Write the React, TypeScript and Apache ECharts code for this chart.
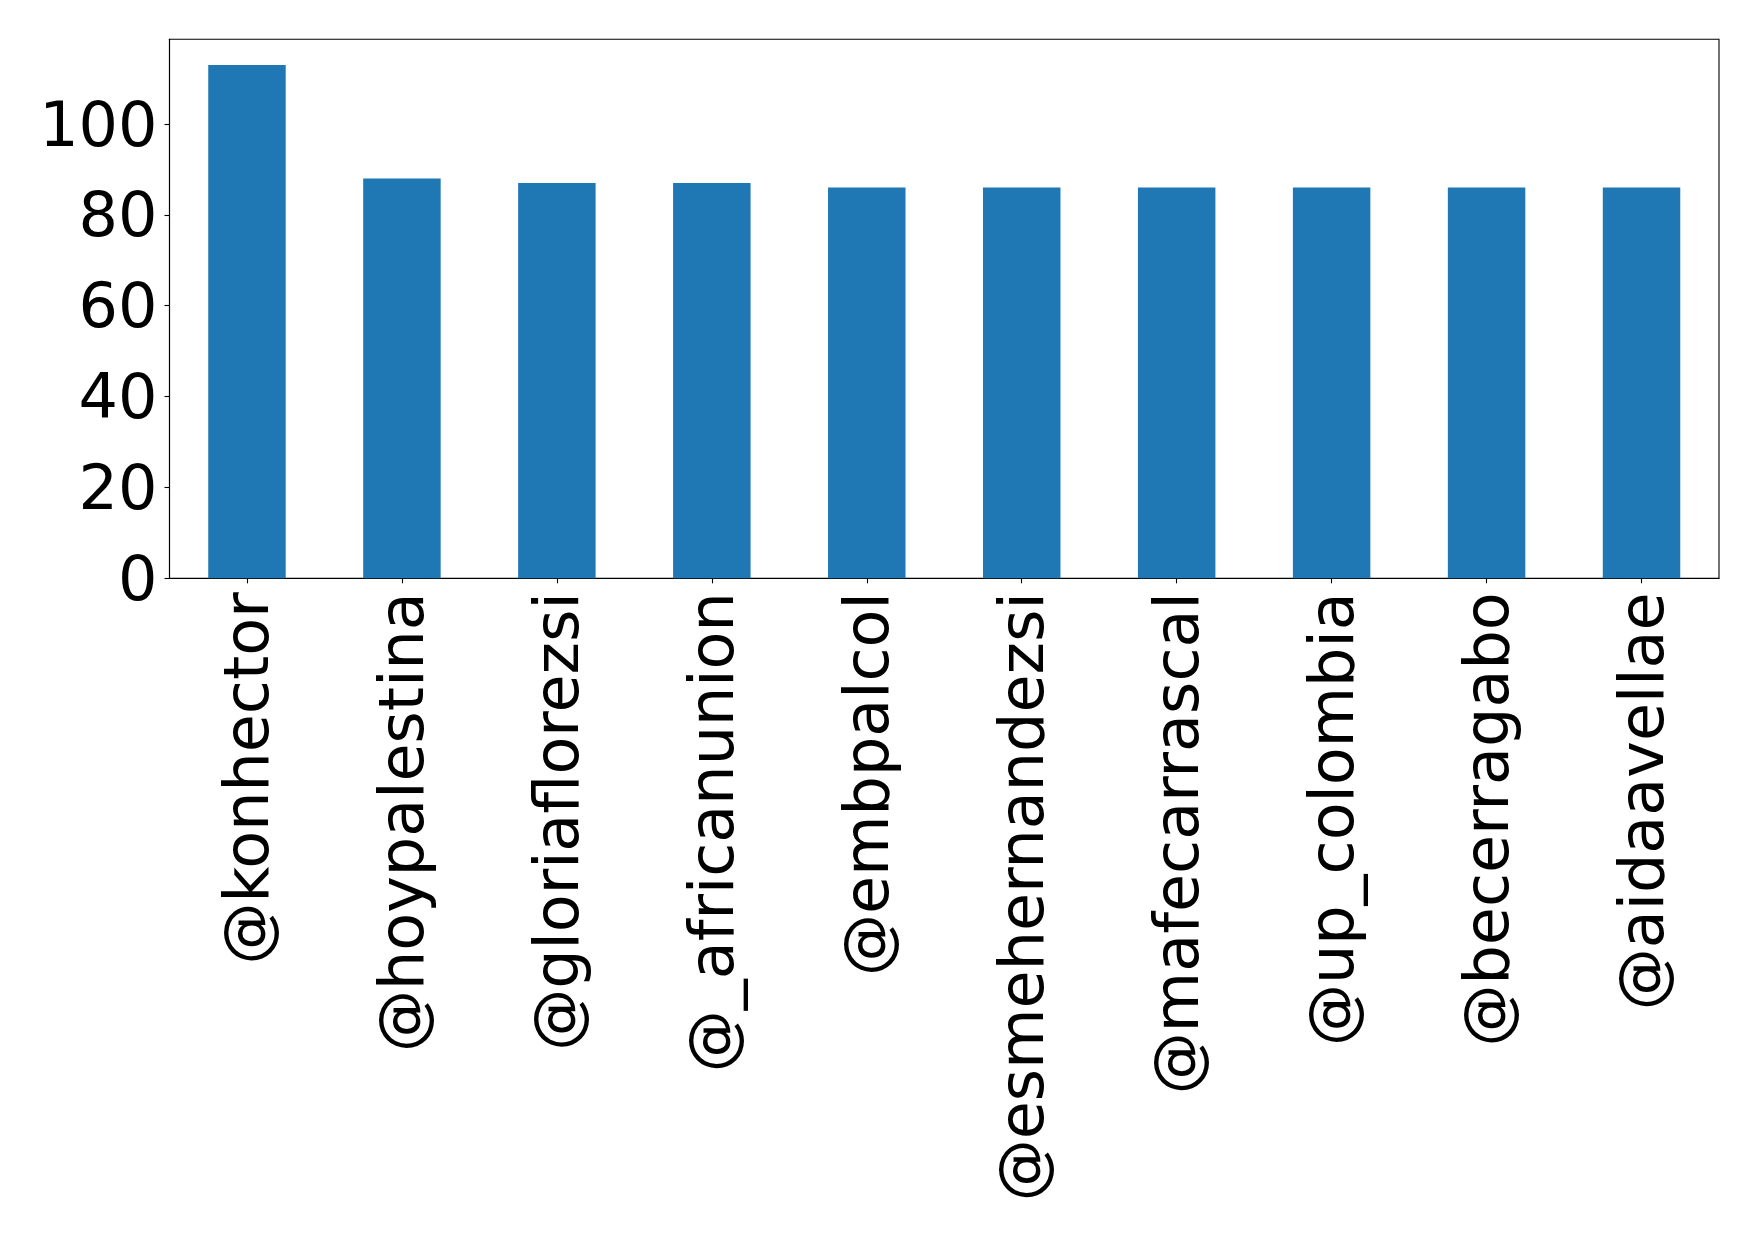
import React, { useEffect, useRef } from "react";
import * as echarts from "echarts";

// Accounts and their counts
const accounts = [
  "@konhector",
  "@hoypalestina",
  "@gloriaflorezsi",
  "@_africanunion",
  "@embpalcol",
  "@esmehernandezsi",
  "@mafecarrascal",
  "@up_colombia",
  "@becerragabo",
  "@aidaavellae",
];
const counts = [113, 88, 87, 87, 86, 86, 86, 86, 86, 86];
const yTicks = [0, 20, 40, 60, 80, 100];

const FONT = "DejaVu Sans";

export default function App() {
  const ref = useRef<HTMLDivElement>(null);

  useEffect(() => {
    if (!ref.current) return;
    const chart = echarts.init(ref.current, null, { renderer: "svg" });
    const yMax = Math.max(...counts) * 1.05;
    chart.setOption({
      animation: false,
      backgroundColor: "#ffffff",
      grid: {
        left: 169.5,
        right: 39,
        top: 39.3,
        bottom: 662.7,
        show: true,
        borderColor: "#000000",
        borderWidth: 1.1,
        backgroundColor: "transparent",
        containLabel: false,
      },
      xAxis: {
        type: "category",
        data: accounts,
        boundaryGap: true,
        axisLine: { show: true, lineStyle: { color: "#000000", width: 1.1 } },
        axisTick: {
          show: true,
          alignWithLabel: true,
          length: 5,
          lineStyle: { color: "#000000", width: 1.1 },
        },
        axisLabel: {
          rotate: 90,
          interval: 0,
          margin: 14,
          fontFamily: FONT,
          fontSize: 62,
          color: "#000000",
        },
        splitLine: { show: false },
      },
      yAxis: {
        type: "value",
        min: 0,
        max: yMax,
        interval: 20,
        axisLine: { show: true, lineStyle: { color: "#000000", width: 1.1 } },
        axisTick: {
          show: true,
          length: 5,
          customValues: yTicks,
          lineStyle: { color: "#000000", width: 1.1 },
        },
        axisLabel: {
          margin: 12,
          customValues: yTicks,
          fontFamily: FONT,
          fontSize: 62,
          color: "#000000",
        },
        splitLine: { show: false },
      },
      series: [
        {
          type: "bar",
          data: counts,
          barWidth: "50%",
          itemStyle: { color: "#1f77b4" },
        },
      ],
    });
    return () => chart.dispose();
  }, []);

  return (
    <div
      ref={ref}
      style={{ position: "absolute", left: 0, top: 0, width: 1758, height: 1241 }}
    />
  );
}
